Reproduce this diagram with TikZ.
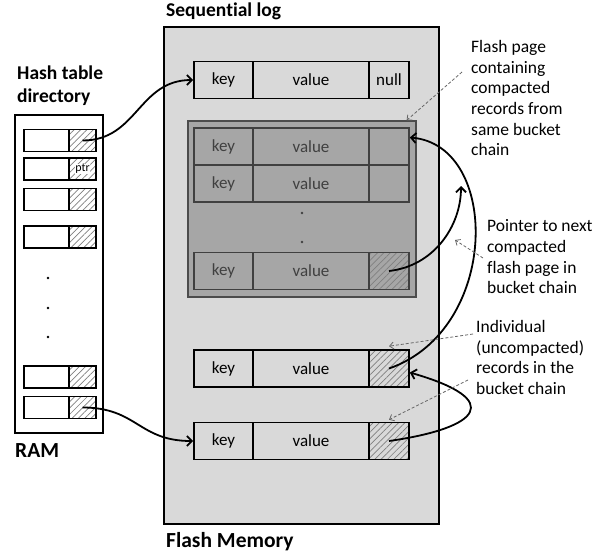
\documentclass[tikz,border=0pt]{standalone}
\usepackage{fontspec}
\setmainfont{Carlito}[RawFeature={-liga;-dlig;-clig;-calt}]
\usetikzlibrary{
    arrows.meta,
    patterns.meta,
    calc,
    positioning
}
\definecolor{flashgray}{HTML}{D9D9D9}
\definecolor{pagegray}{HTML}{A6A6A6}
\definecolor{darkline}{HTML}{404040}
\tikzset{
    cell/.style={draw, line width=1.6pt, minimum height=37pt, inner sep=0pt, font=\fontsize{17}{20}\selectfont},
    slot/.style={draw, line width=1.6pt, minimum height=22pt, inner sep=0pt},
    faded/.style={draw=darkline, text=darkline},
    hatched/.style={preaction={fill=#1}, pattern={Lines[angle=45, distance=4.5pt, line width=0.7pt]}, pattern color=gray},
    title/.style={font=\bfseries\fontsize{19.5}{23}\selectfont, inner sep=0pt, align=left},
    bigtitle/.style={font=\bfseries\fontsize{21.5}{25}\selectfont, inner sep=0pt},
    note/.style={font=\fontsize{17.5}{20.7}\selectfont, inner sep=0pt, align=left, anchor=north west},
    ptrarrow/.style={line width=1.8pt, -{Straight Barb[length=5pt, width=10pt]}},
    notearrow/.style={draw=gray!80!black, line width=0.8pt, dash pattern=on 3pt off 2pt, -{Straight Barb[length=4pt, width=7pt]}}
}
\newcommand{\logrec}[5]{
    \node[cell, #3, minimum width=59pt] (#1-k) at (223.5, #2) {key};
    \node[cell, #3, minimum width=116pt] (#1-v) at (311, #2) {value};
    \node[cell, #3, #4, minimum width=40pt] (#1-p) at (389, #2) {#5};
}
\newcommand{\hashrow}[2]{
    \node[slot, minimum width=45pt] (#1-k) at (46.5, #2) {};
    \node[slot, hatched=white, minimum width=27pt] (#1-p) at (82.5, #2) {};
}
\begin{document}
\begin{tikzpicture}[x=1pt, y=-1pt]
    \useasboundingbox (0, 0) rectangle (607, 554);
    \node[draw, line width=1.6pt, fill=flashgray, minimum width=275pt, minimum height=497pt] (flash) at (301.5, 275.5) {};
    \node[draw=gray!60!black, line width=1.2pt, fill=pagegray, minimum width=228pt, minimum height=176pt] (page) at (302, 209) {};
    \logrec{r1}{80}{}{}{null}
    \logrec{c1}{146.5}{faded}{}{}
    \logrec{c2}{183.5}{faded}{}{}
    \logrec{c3}{271}{faded}{hatched=pagegray}{}
    \logrec{r3}{368.5}{}{hatched=flashgray}{}
    \logrec{r4}{441}{}{hatched=flashgray}{}
    \fill[darkline] (302, 213) circle (1.3) (302, 242) circle (1.3);
    \node[draw, line width=1.6pt, fill=white, minimum width=88pt, minimum height=318pt] (ram) at (59, 274) {};
    \hashrow{h1}{140.5}
    \hashrow{h2}{169}
    \hashrow{h3}{199.5}
    \hashrow{h4}{237}
    \hashrow{h5}{377}
    \hashrow{h6}{407.5}
    \node[fill=white, inner sep=0.5pt, font=\fontsize{12}{12}\selectfont] (h2-t) at (h2-p) {ptr};
    \fill (48, 278) circle (1.3) (48, 308) circle (1.3) (48, 337) circle (1.3);
    \node[title, anchor=base west] (seq) at (166, 16.5) {Sequential log};
    \node[title, anchor=north west] (dir) at (17, 66) {Hash table\\directory};
    \node[bigtitle, anchor=base west] (ramlbl) at (15, 457) {RAM};
    \node[bigtitle, anchor=base west] (flashlbl) at (166, 547) {Flash Memory};
    \node[note] (nPage) at (471, 40) {Flash page\\containing\\compacted\\records from\\same bucket\\chain};
    \node[note] (nNext) at (487, 219.5) {Pointer to next\\compacted\\flash page in\\bucket chain};
    \node[note] (nRec) at (476, 320) {Individual\\(uncompacted)\\records in the\\bucket chain};
    \coordinate (nextpage) at (461, 186);
    \draw[ptrarrow] (h1-p.center) .. controls +(55, 0) and +(-55, 0) .. (r1-k.west);
    \draw[ptrarrow] (h6-p.center) .. controls +(55, 0) and +(-55, 0) .. (r4-k.west);
    \draw[ptrarrow] (c3-p.center) .. controls +(45, -5) and +(0, 40) .. (nextpage);
    \draw[ptrarrow] (r3-p.center) .. controls +(111, -38.5) and +(91, 7.5) .. ([yshift=9pt]c1-p.east);
    \draw[ptrarrow] (r4-p.center) .. controls +(91, -13) and +(96, 27.5) .. ([yshift=-4pt]r3-p.east);
    \coordinate (dA) at (462, 72);
    \coordinate (dB) at (483, 258);
    \coordinate (dBend) at (455, 240);
    \coordinate (dC) at (473, 334);
    \coordinate (dD) at (468, 380);
    \draw[notearrow] (dA) -- ([xshift=-10pt]page.north east);
    \draw[notearrow] (dB) -- (dBend);
    \draw[notearrow] (dC) -- ([yshift=3pt]r3-p.north);
    \draw[notearrow] (dD) -- ([yshift=2pt]r4-p.north);
\end{tikzpicture}
\end{document}
